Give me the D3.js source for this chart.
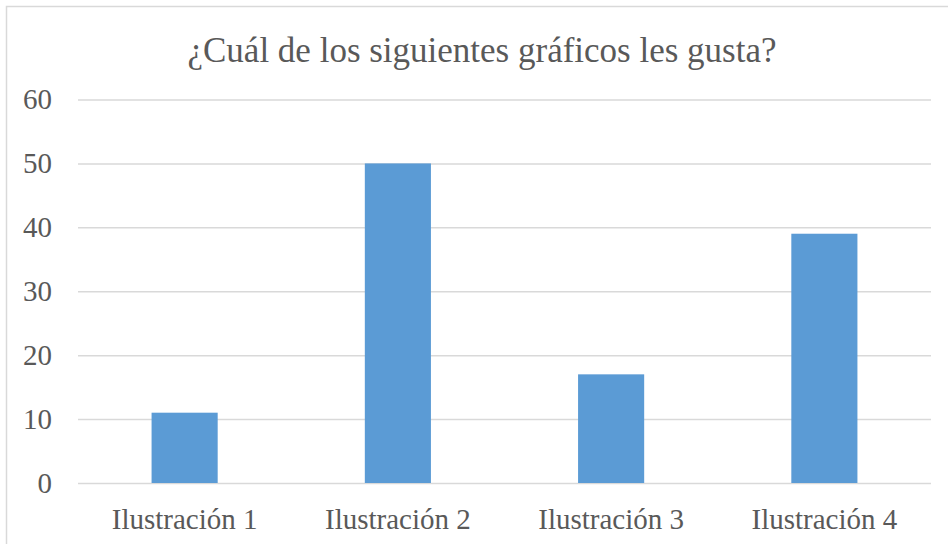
<!DOCTYPE html>
<html><head><meta charset="utf-8">
<script src="https://cdn.jsdelivr.net/npm/d3@7"></script>
<style>html,body{margin:0;padding:0;background:#fff;}</style>
</head><body>
<svg id="c" width="948" height="544"></svg>
<script>
const categories = ["Ilustración 1", "Ilustración 2", "Ilustración 3", "Ilustración 4"];
const values = [11, 50, 17, 39];
const yTicks = [0, 10, 20, 30, 40, 50, 60];
const title = "¿Cuál de los siguientes gráficos les gusta?";

const svg = d3.select("#c");
const font = "'Liberation Serif','Times New Roman',serif";
const textColor = "#595959";

svg.append("rect").attr("x", 6.5).attr("y", 6.5).attr("width", 960).attr("height", 560)
  .attr("fill", "#fff").attr("stroke", "#D9D9D9").attr("stroke-width", 1.5);

const plotL = 78, plotR = 931, plotT = 99.5, plotB = 483;
const x = d3.scaleBand().domain(categories).range([plotL, plotR]).paddingInner(0.69).paddingOuter(0.345);
const y = d3.scaleLinear().domain([0, 60]).range([plotB, plotT]);

const yAxis = d3.axisLeft(y).tickValues(yTicks).tickSize(-(plotR - plotL)).tickPadding(26);
const gy = svg.append("g").attr("transform", `translate(${plotL},0)`).call(yAxis);
gy.select(".domain").remove();
gy.selectAll(".tick line").attr("stroke", "#D9D9D9").attr("stroke-width", 1.5);
gy.selectAll(".tick text").attr("fill", textColor).attr("font-family", font).attr("font-size", 29);

svg.append("g").selectAll("rect").data(values).join("rect")
  .attr("x", (d, i) => x(categories[i]))
  .attr("width", x.bandwidth())
  .attr("y", d => y(d))
  .attr("height", d => y(0) - y(d))
  .attr("fill", "#5B9BD5");

const xAxis = d3.axisBottom(x).tickSize(0).tickPadding(25);
const gx = svg.append("g").attr("transform", `translate(0,${plotB})`).call(xAxis);
gx.select(".domain").remove();
gx.selectAll(".tick text").attr("fill", textColor).attr("font-family", font).attr("font-size", 29);

svg.append("text").attr("x", 482).attr("y", 62).attr("text-anchor", "middle")
  .attr("fill", textColor).attr("font-family", font).attr("font-size", 35).text(title);
</script>
</body></html>
